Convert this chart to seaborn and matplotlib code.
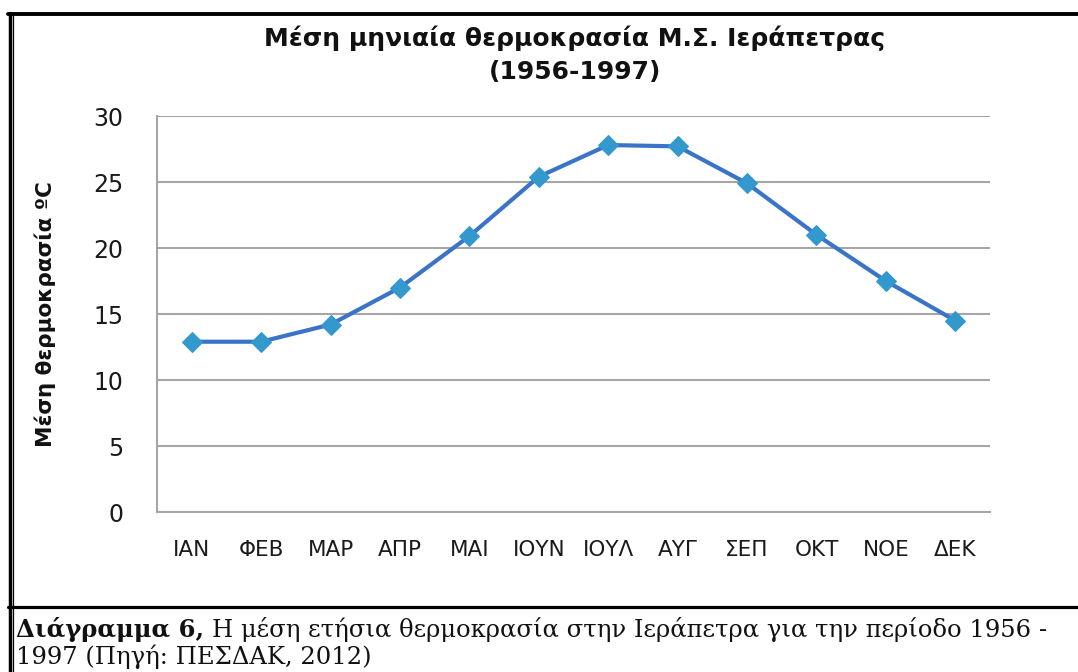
import numpy as np
import pandas as pd
import seaborn as sns
import matplotlib.pyplot as plt
from matplotlib.lines import Line2D

months = ['ΙΑΝ', 'ΦΕΒ', 'ΜΑΡ', 'ΑΠΡ', 'ΜΑΙ', 'ΙΟΥΝ', 'ΙΟΥΛ', 'ΑΥΓ', 'ΣΕΠ', 'ΟΚΤ', 'ΝΟΕ', 'ΔΕΚ']
temps = [12.9, 12.9, 14.2, 17.0, 20.9, 25.4, 27.8, 27.7, 24.9, 21.0, 17.5, 14.5]
yticks = [0, 5, 10, 15, 20, 25, 30]

df = pd.DataFrame({'month': months, 'temp': temps})

sns.set_theme(style='white')
plt.rcParams['font.family'] = ['DejaVu Sans']
plt.rcParams['text.color'] = '#111111'

W, H = 1078, 672
fig = plt.figure(figsize=(W / 100, H / 100), dpi=100)
ax = fig.add_axes([157 / W, 1 - 512 / H, 833 / W, 396 / H])

sns.lineplot(data=df, x='month', y='temp', ax=ax, sort=False,
             color='#3a74c8', linewidth=3, marker='D', markersize=10,
             markerfacecolor='#3399cc', markeredgecolor='#3399cc')

ax.set_xlim(-0.5, len(months) - 0.5)
ax.set_ylim(0, 30)
ax.set_yticks(yticks)
ax.yaxis.grid(True, color='#a6a6a6', linewidth=1.5)
ax.xaxis.grid(False)
for s in ['top', 'right']:
    ax.spines[s].set_visible(False)
for s in ['left', 'bottom']:
    ax.spines[s].set_color('#a6a6a6')
    ax.spines[s].set_linewidth(1.5)
ax.tick_params(axis='y', labelsize=17, length=0, pad=24, colors='#1a1a1a')
ax.tick_params(axis='x', labelsize=15.5, length=0, pad=20, colors='#1a1a1a')
ax.set_xlabel('')
ax.set_ylabel('Μέση θερμοκρασία ºC', fontsize=15.5, fontweight='bold',
              labelpad=27, color='#111111')

fig.text(575 / W, 1 - 38 / H, 'Μέση μηνιαία θερμοκρασία Μ.Σ. Ιεράπετρας',
         ha='center', va='center', fontsize=18, fontweight='bold')
fig.text(575 / W, 1 - 72 / H, '(1956-1997)',
         ha='center', va='center', fontsize=18, fontweight='bold')

# frame lines
def fline(x0, y0, x1, y1, lw):
    fig.add_artist(Line2D([x0 / W, x1 / W], [1 - y0 / H, 1 - y1 / H],
                          color='black', linewidth=lw, transform=fig.transFigure))

fline(9.5, 13, 9.5, 672, 2.5)
fline(13, 13, 13, 672, 0.9)
fline(8, 13.5, 1078, 13.5, 2.8)
fline(8, 607, 1078, 607, 2.3)

# caption: bold lead-in followed by regular text
cap_font = 'DejaVu Serif'
cap_size = 17.5
t_bold = fig.text(16 / W, 1 - 629 / H, 'Διάγραμμα 6,', ha='left', va='center',
                  fontsize=cap_size, fontweight='bold', family=cap_font)
fig.canvas.draw()
bb = t_bold.get_window_extent(renderer=fig.canvas.get_renderer())
fig.text((bb.x1 + 8) / W, 1 - 629 / H,
         'Η μέση ετήσια θερμοκρασία στην Ιεράπετρα για την περίοδο 1956 -',
         ha='left', va='center', fontsize=cap_size, family=cap_font)
fig.text(16 / W, 1 - 657 / H, '1997 (Πηγή: ΠΕΣΔΑΚ, 2012)', ha='left', va='center',
         fontsize=cap_size, family=cap_font)

fig.savefig('out.png', dpi=100)
